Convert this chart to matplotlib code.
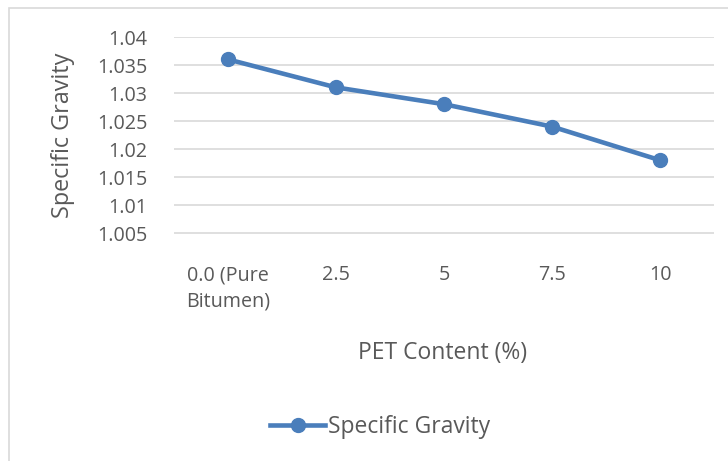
import matplotlib
matplotlib.use("Agg")
from matplotlib import pyplot as plt
from matplotlib.patches import Rectangle

# PET content categories and measured specific gravity
categories = ["0.0 (Pure\nBitumen)", "2.5", "5", "7.5", "10"]
specific_gravity = [1.036, 1.031, 1.028, 1.024, 1.018]
y_ticks = [1.005, 1.01, 1.015, 1.02, 1.025, 1.03, 1.035, 1.04]
y_tick_labels = ["1.005", "1.01", "1.015", "1.02", "1.025", "1.03", "1.035", "1.04"]

text_color = "#595959"
line_color = "#4a7ebb"
plt.rcParams["font.family"] = ["Open Sans", "DejaVu Sans"]

fig = plt.figure(figsize=(7.28, 4.61), dpi=100)
fig.patches.append(Rectangle((9 / 728, -0.1), 1.2, 1 - 8 / 461 + 0.1, transform=fig.transFigure,
                             fill=False, edgecolor="#d9d9d9", linewidth=1.2))

ax = fig.add_axes([174 / 728, 1 - 261 / 461, 540 / 728, 224 / 461])
x = list(range(len(categories)))
ax.plot(x, specific_gravity, color=line_color, linewidth=3.3, marker="o", markersize=10,
        label="Specific Gravity")

ax.set_xlim(-0.5, len(categories) - 0.5)
ax.set_ylim(1.0, 1.04)
ax.set_yticks(y_ticks)
ax.set_yticklabels(y_tick_labels)
ax.set_xticks(x)
ax.set_xticklabels(categories, linespacing=1.45, ha="center", va="top")
ax.tick_params(axis="both", length=0, labelsize=14.2, colors=text_color)
ax.tick_params(axis="x", pad=3)
ax.tick_params(axis="y", pad=19)
ax.grid(axis="y", color="#d9d9d9", linewidth=1.2)
ax.set_axisbelow(True)
for side in ax.spines.values():
    side.set_visible(False)

fig.text(63 / 728, 1 - 135 / 461, "Specific Gravity", rotation=90, ha="center", va="center",
         fontsize=16.8, color=text_color)
fig.text(443 / 728, 1 - 353 / 461, "PET Content (%)", ha="center", va="center",
         fontsize=16.5, color=text_color)

fig.legend(loc="center", bbox_to_anchor=(380 / 728, 1 - 427 / 461), frameon=False,
           fontsize=16.5, labelcolor=text_color, handlelength=2.4, handletextpad=0.1)

fig.savefig("out.png", dpi=100)
